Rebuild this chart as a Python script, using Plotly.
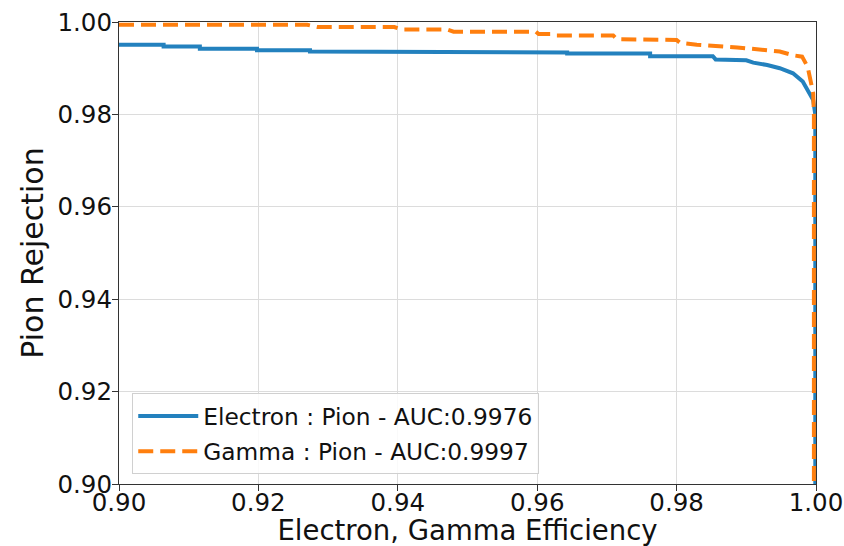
import plotly.graph_objects as go

# ROC working points: signal efficiency vs pion rejection
electron_eff = [0.9000, 0.9064, 0.9064, 0.9116, 0.9116, 0.9198, 0.9198, 0.9274, 0.9274,
                0.9357, 0.9357, 0.9643, 0.9643, 0.9762, 0.9762, 0.9852, 0.9856, 0.9900,
                0.9910, 0.9930, 0.9948, 0.9967, 0.9981, 0.9991, 0.9996, 0.9999, 0.9999]
electron_rej = [0.9951, 0.9951, 0.9947, 0.9947, 0.9942, 0.9942, 0.9939, 0.9939, 0.9936,
                0.9936, 0.9934, 0.9934, 0.9932, 0.9932, 0.9926, 0.9926, 0.9919, 0.9917,
                0.9912, 0.9907, 0.9900, 0.9889, 0.9871, 0.9846, 0.9831, 0.9800, 0.9000]

gamma_eff = [0.9000, 0.9270, 0.9285, 0.9395, 0.9405, 0.9470, 0.9480, 0.9598, 0.9602,
             0.9620, 0.9625, 0.9709, 0.9714, 0.9800, 0.9805, 0.9829, 0.9887, 0.9938,
             0.9948, 0.9967, 0.9980, 0.9988, 0.9996, 0.9997, 0.9997]
gamma_rej = [0.9994, 0.9994, 0.9989, 0.9989, 0.9984, 0.9984, 0.9979, 0.9979, 0.9974,
             0.9974, 0.9971, 0.9971, 0.9963, 0.9961, 0.9955, 0.9951, 0.9945, 0.9938,
             0.9936, 0.9928, 0.9925, 0.9903, 0.9846, 0.9800, 0.9000]

labels = ["Electron : Pion - AUC:0.9976", "Gamma : Pion - AUC:0.9997"]
tick_vals = [0.90, 0.92, 0.94, 0.96, 0.98, 1.00]

BLUE = "#2381be"
ORANGE = "#ff7f0e"
FONT = "DejaVu Sans"
INK = "#111111"

fig = go.Figure()
fig.add_trace(go.Scatter(x=electron_eff, y=electron_rej, mode="lines", name=labels[0],
                         legendgroup="e", line=dict(color=BLUE, width=4)))
fig.add_trace(go.Scatter(x=gamma_eff, y=gamma_rej, mode="lines", name=labels[1],
                         legendgroup="g", line=dict(color=ORANGE, width=4, dash="15px,7px")))

axis_common = dict(
    tickvals=tick_vals, tickformat=".2f",
    showgrid=True, gridcolor="#dcdcdc", gridwidth=1,
    showline=True, linecolor="#333333", linewidth=1.2, mirror=True,
    ticks="outside", ticklen=6, tickwidth=1.2, tickcolor="#333333",
    tickfont=dict(family=FONT, size=24.5, color=INK),
    zeroline=False, automargin=False,
)

fig.update_xaxes(range=[0.90, 1.00], **axis_common, ticklabelstandoff=-10,
                 title=dict(text="Electron, Gamma Efficiency",
                            font=dict(family=FONT, size=27.5, color=INK), standoff=5))
fig.update_yaxes(range=[0.90, 1.00], **axis_common, ticklabelstandoff=-5,
                 title=dict(text="Pion Rejection",
                            font=dict(family=FONT, size=30, color=INK), standoff=4))

fig.update_layout(
    width=844, height=546,
    margin=dict(l=119, r=28, t=22, b=62),
    paper_bgcolor="white", plot_bgcolor="white",
    font=dict(family=FONT),
    legend=dict(x=0.019, y=0.021, xanchor="left", yanchor="bottom",
                bgcolor="rgba(255,255,255,0.85)", bordercolor="#d0d0d0", borderwidth=1,
                font=dict(family=FONT, size=23.3, color=INK),
                itemwidth=60, tracegroupgap=2),
    showlegend=True,
)

fig.write_html("out.html")
